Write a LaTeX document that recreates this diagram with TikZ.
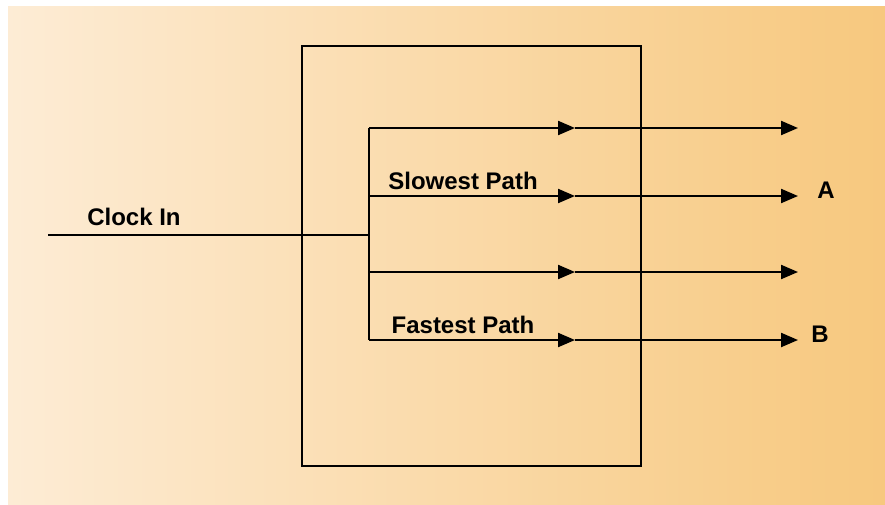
\documentclass[tikz,border=0pt]{standalone}
\usepackage{fontspec}
\setmainfont{Liberation Sans}
\usetikzlibrary{arrows.meta}
\definecolor{bgleft}{RGB}{253,236,213}
\definecolor{bgright}{RGB}{247,200,126}
\tikzset{
  wire/.style={line width=2.2pt, black},
  tipped/.style={wire, -{Triangle[length=17pt,width=14pt]}},
  lbl/.style={font=\fontsize{24}{27}\selectfont\bfseries, inner sep=0pt, anchor=base},
}
\begin{document}
\begin{tikzpicture}[x=1pt, y=-1pt]
  \useasboundingbox (0,0) rectangle (885,504);
  % background wash
  \shade[left color=bgleft, right color=bgright] (8,6) rectangle (885,504);
  % enclosing block
  \draw[wire] (302,46) rectangle (641,466);
  % clock input and distribution bus
  \coordinate (in) at (48,235);
  \coordinate (tap) at (369,235);
  \coordinate (bt) at (369,128);
  \coordinate (bb) at (369,340);
  \draw[wire] (in) -- (tap);
  \draw[wire] (bt) -- (bb);
  \node[lbl] (clk) at (134,225) {Clock In};
  % four branches, each with a midway arrowhead and an output arrow
  \foreach \name/\yy in {p1/128, p2/196, p3/272, p4/340}{
    \coordinate (\name s) at (369,\yy);
    \coordinate (\name m) at (575,\yy);
    \coordinate (\name e) at (798,\yy);
    \draw[tipped] (\name s) -- (\name m);
    \draw[tipped] (\name m) -- (\name e);
  }
  \node[lbl] (slow) at (463,189) {Slowest Path};
  \node[lbl] (fast) at (463,333) {Fastest Path};
  \node[lbl] (outA) at (826,198) {A};
  \node[lbl] (outB) at (820,342) {B};
\end{tikzpicture}
\end{document}
